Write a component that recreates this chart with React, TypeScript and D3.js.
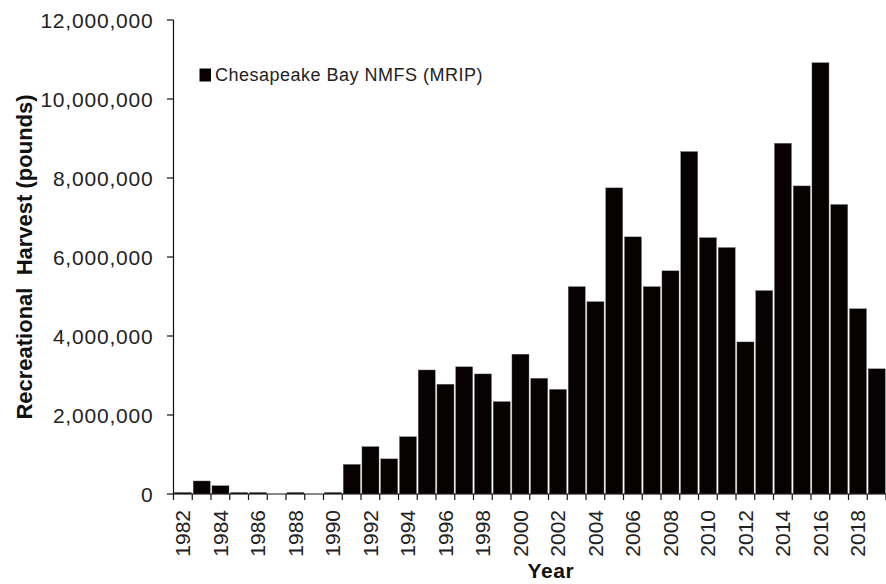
import React from "react";
import * as d3 from "d3";

const years: string[] = [
  "1982", "1983", "1984", "1985", "1986", "1987", "1988", "1989", "1990", "1991",
  "1992", "1993", "1994", "1995", "1996", "1997", "1998", "1999", "2000", "2001",
  "2002", "2003", "2004", "2005", "2006", "2007", "2008", "2009", "2010", "2011",
  "2012", "2013", "2014", "2015", "2016", "2017", "2018", "2019",
];

const harvest: number[] = [
  40000, 330000, 210000, 40000, 40000, 0, 40000, 0, 40000, 750000,
  1200000, 890000, 1450000, 3140000, 2780000, 3220000, 3040000, 2340000, 3540000, 2930000,
  2650000, 5250000, 4870000, 7750000, 6510000, 5250000, 5650000, 8670000, 6490000, 6240000,
  3850000, 5150000, 8880000, 7800000, 10920000, 7330000, 4690000, 3170000,
];

const yTicks: number[] = [0, 2000000, 4000000, 6000000, 8000000, 10000000, 12000000];
const xTickLabels: string[] = [
  "1982", "1984", "1986", "1988", "1990", "1992", "1994", "1996", "1998", "2000",
  "2002", "2004", "2006", "2008", "2010", "2012", "2014", "2016", "2018",
];

const seriesName = "Chesapeake Bay NMFS (MRIP)";
const xTitle = "Year";
const yTitle = "Recreational  Harvest (pounds)";

const W = 886;
const H = 584;
const left = 173.5;
const right = 886;
const top = 20;
const bottom = 494;

const FONT = "'Liberation Sans', Arial, sans-serif";
const TEXT = "#222";
const BAR = "#070202";

export default function App() {
  const x = d3.scaleBand<string>().domain(years).range([left, right]).paddingInner(0.09).paddingOuter(0.045);
  const xb = d3.scaleBand<string>().domain(years).range([left, right]).padding(0);
  const y = d3.scaleLinear().domain([0, 12000000]).range([bottom, top]);
  const fmt = d3.format(",");

  const boundaries = years.map((yr) => xb(yr)!).concat([right]);

  return (
    <svg
      width={W}
      height={H}
      style={{ position: "absolute", left: 0, top: 0, background: "#fff" }}
      fontFamily={FONT}
    >
      {/* bars */}
      {years.map((yr, i) => {
        const v = harvest[i];
        if (v <= 0) return null;
        const bx = xb(yr)! + xb.bandwidth() * 0.05;
        const bw = xb.bandwidth() * 0.91;
        return (
          <rect
            key={yr}
            x={bx}
            y={y(v)}
            width={bw}
            height={bottom - y(v)}
            fill={BAR}
            stroke="#777"
            strokeWidth={0.4}
          />
        );
      })}

      {/* y axis */}
      <line x1={left} x2={left} y1={top} y2={bottom} stroke="#111" strokeWidth={1.2} />
      {yTicks.map((t) => (
        <g key={t}>
          <line x1={left - 6.5} x2={left} y1={y(t)} y2={y(t)} stroke="#111" strokeWidth={1.2} />
          <text
            x={left - 20}
            y={y(t)}
            textAnchor="end"
            dominantBaseline="central"
            fontSize={21}
            letterSpacing={0.8}
            fill={TEXT}
          >
            {fmt(t)}
          </text>
        </g>
      ))}

      {/* x axis */}
      <line x1={left} x2={right} y1={bottom} y2={bottom} stroke="#111" strokeWidth={1.2} />
      {boundaries.map((bx, i) => (
        <line key={i} x1={bx} x2={bx} y1={bottom} y2={bottom + 6} stroke="#111" strokeWidth={1.2} />
      ))}
      {xTickLabels.map((lab) => {
        const cx = xb(lab)! + xb.bandwidth() / 2;
        return (
          <text
            key={lab}
            transform={`translate(${cx},${bottom + 16}) rotate(-90)`}
            textAnchor="end"
            dominantBaseline="central"
            fontSize={21}
            fill={TEXT}
          >
            {lab}
          </text>
        );
      })}

      {/* axis titles */}
      <text x={551} y={578} textAnchor="middle" fontSize={21} fontWeight="bold" letterSpacing={0.6} fill="#111">
        {xTitle}
      </text>
      <text
        transform={`translate(32,257) rotate(-90)`}
        textAnchor="middle"
        fontSize={22}
        fontWeight="bold"
        fill="#111"
        style={{ whiteSpace: "pre" }}
      >
        {yTitle}
      </text>

      {/* legend */}
      <rect x={199.5} y={68.5} width={11.5} height={13} fill={BAR} />
      <text x={215} y={75} dominantBaseline="central" fontSize={18} letterSpacing={0.5} fill={TEXT}>
        {seriesName}
      </text>
    </svg>
  );
}
